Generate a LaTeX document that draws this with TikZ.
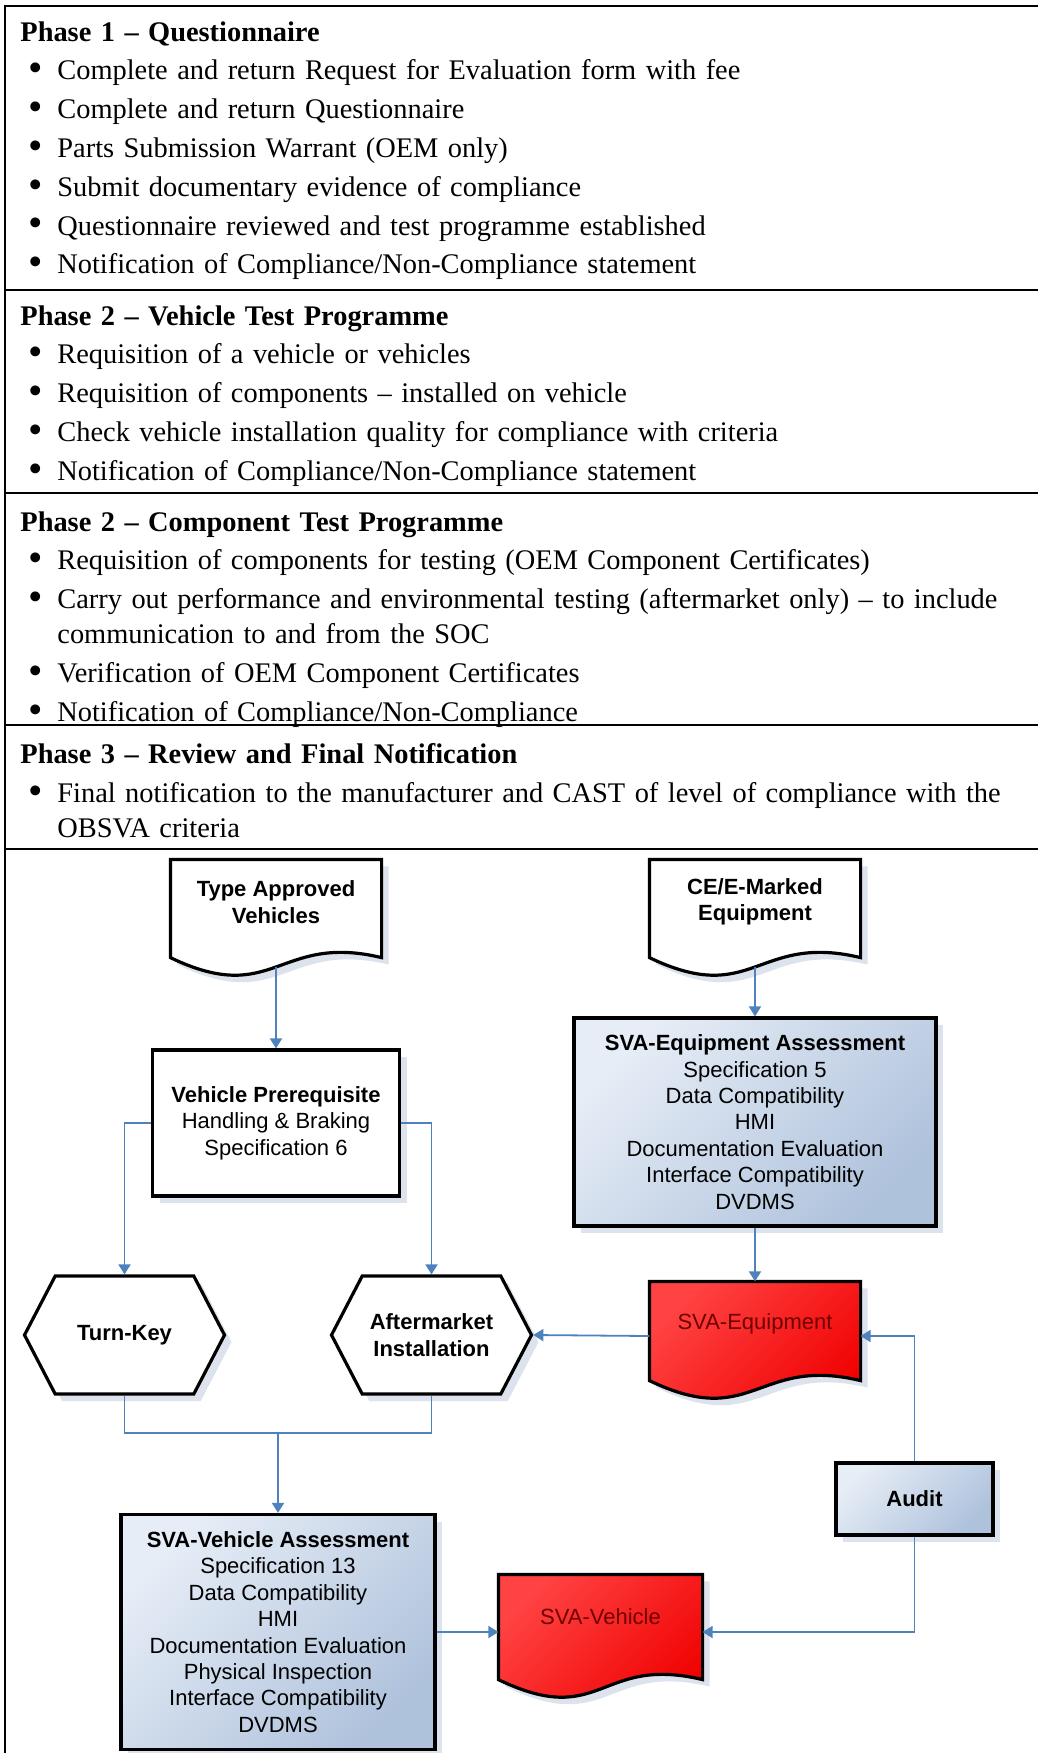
\documentclass[tikz,border=0pt]{standalone}
\usepackage{fontspec}
\setmainfont{Liberation Serif}
\setsansfont{Liberation Sans}
\usetikzlibrary{positioning, shapes.symbols, shadows, backgrounds, arrows.meta}

\definecolor{flowblue}{HTML}{4F81BD}
\definecolor{boxlight}{HTML}{E6EDF6}
\definecolor{boxdark}{HTML}{AFC2DC}
\definecolor{shadowgrey}{HTML}{DDE3EC}
\definecolor{redlight}{HTML}{FF4242}
\definecolor{reddark}{HTML}{F00000}
\definecolor{redtext}{HTML}{6E0000}

\newcommand\phasehead[1]{\noindent\textbf{#1}}
\newcommand\phaseitem{\par\hangindent=18.5pt\hangafter=1\noindent
  \hbox to 18.5pt{\hskip4pt\raisebox{-0.9pt}{\scalebox{1.45}{\textbullet}}\hfil}}
\newcommand\docoutline[3]{\path[docline,#3] (#1.north west) -- (#1.north east) -- ([yshift=-#2]#1.south east)
  .. controls +(-104,-25) and +(104,50) .. ([yshift=-#2]#1.south west) -- cycle;}

\tikzset{
  frame/.style={line width=1.3pt},
  phase/.style={anchor=north west, inner sep=0pt, text width=505pt, align=left,
    font={\fontsize{14.2pt}{17.5pt}\selectfont\parskip=1.9pt}},
  shadowed/.style={drop shadow={shadow xshift=3.5pt, shadow yshift=-3.5pt, fill=shadowgrey, opacity=1}},
  flowtext/.style={font=\sffamily\fontsize{11pt}{13.2pt}\selectfont, align=center, inner sep=0pt},
  docnode/.style={flowtext, minimum width=104pt, minimum height=41pt, outer sep=0.8pt},
  docline/.style={draw, line width=1.6pt, shadowed},
  redfill/.style={top color=redlight, bottom color=reddark, shading angle=45},
  plainbox/.style={flowtext, draw, line width=1.6pt, fill=white, shadowed},
  assessbox/.style={flowtext, draw, line width=1.6pt, top color=boxlight, bottom color=boxdark,
    shading angle=45, shadowed},
  hexnode/.style={flowtext, font=\sffamily\bfseries\fontsize{11pt}{13.2pt}\selectfont, draw,
    line width=1.6pt, fill=white, shadowed, signal, signal to=west and east,
    signal pointer angle=125, minimum width=100pt, minimum height=59pt},
  flow/.style={draw=flowblue, line width=0.9pt}
}

\begin{document}
\begin{tikzpicture}[x=0.5pt, y=-0.5pt, node distance=100pt, on grid,
    >={Triangle[length=5pt,width=6pt]}]
\useasboundingbox (0,0) rectangle (1038,1753);

\draw[frame] (1038,6) -- (5,6) -- (5,1753);
\foreach \y in {290,493,725,849}
  \draw[frame] (5,\y) -- (1038,\y);

\node[phase] (phase1) at (20,21) {\phasehead{Phase 1 – Questionnaire}
  \phaseitem Complete and return Request for Evaluation form with fee
  \phaseitem Complete and return Questionnaire
  \phaseitem Parts Submission Warrant (OEM only)
  \phaseitem Submit documentary evidence of compliance
  \phaseitem Questionnaire reviewed and test programme established
  \phaseitem Notification of Compliance/Non-Compliance statement\par};
\node[phase] (phase2v) at (20,305) {\phasehead{Phase 2 – Vehicle Test Programme}
  \phaseitem Requisition of a vehicle or vehicles
  \phaseitem Requisition of components – installed on vehicle
  \phaseitem Check vehicle installation quality for compliance with criteria
  \phaseitem Notification of Compliance/Non-Compliance statement\par};
\node[phase] (phase2c) at (20,511) {\phasehead{Phase 2 – Component Test Programme}
  \phaseitem Requisition of components for testing (OEM Component Certificates)
  \phaseitem Carry out performance and environmental testing (aftermarket only) – to include communication to and from the SOC
  \phaseitem Verification of OEM Component Certificates
  \phaseitem Notification of Compliance/Non-Compliance\par};
\node[phase] (phase3) at (20,743) {\phasehead{Phase 3 – Review and Final Notification}
  \phaseitem Final notification to the manufacturer and CAST of level of compliance with the OBSVA criteria\par};

\node[docnode] (tav) at (276,902) {\textbf{Type Approved}\\\textbf{Vehicles}};
\node[docnode, right=239.5pt of tav] (ce) {\textbf{CE/E-Marked}\\\textbf{Equipment}};
\node[plainbox, minimum width=123.5pt, minimum height=73pt, below=110.5pt of tav] (vp)
  {\textbf{Vehicle Prerequisite}\\Handling \& Braking\\Specification 6};
\node[assessbox, minimum width=181pt, minimum height=104pt, below=110pt of ce] (svaea)
  {\textbf{SVA-Equipment Assessment}\\Specification 5\\Data Compatibility\\HMI\\Documentation Evaluation\\Interface Compatibility\\DVDMS};
\node[docnode, text=redtext, below=101pt of svaea] (sve) {SVA-Equipment};
\node[hexnode] (tk) at (124.5,1335) {Turn-Key};
\node[hexnode, right=153.5pt of tk] (am) {Aftermarket\\Installation};
\node[assessbox, minimum width=78.5pt, minimum height=36pt] (audit) at (914.5,1499) {\textbf{Audit}};
\node[assessbox, minimum width=157pt, minimum height=117.5pt] (svava) at (278,1632)
  {\textbf{SVA-Vehicle Assessment}\\Specification 13\\Data Compatibility\\HMI\\Documentation Evaluation\\Physical Inspection\\Interface Compatibility\\DVDMS};
\node[docnode, minimum width=100.5pt, text=redtext] (svv) at (600.5,1617) {SVA-Vehicle};
\coordinate (merge) at (278,1433);

\begin{scope}[on background layer]
  \docoutline{tav}{6.5pt}{fill=white}
  \docoutline{ce}{6.5pt}{fill=white}
  \docoutline{sve}{7pt}{redfill}
  \docoutline{svv}{10pt}{redfill}
\end{scope}

\draw[flow,->] ([yshift=-11pt]tav.south) -- (vp.north);
\draw[flow,->] ([yshift=-11pt]ce.south) -- (svaea.north);
\draw[flow,->] (vp.west) -| (tk.north);
\draw[flow,->] (vp.east) -| (am.north);
\draw[flow,->] (svaea.south) -- (sve.north);
\draw[flow,->] ([yshift=-6pt]sve.west) -- (am.east);
\draw[flow] (tk.south) |- (merge);
\draw[flow] (am.south) |- (merge);
\draw[flow,->] (merge) -- (svava.north);
\draw[flow,->] (audit.north) |- ([yshift=-6pt]sve.east);
\draw[flow,->] (audit.south) |- ([yshift=-7.5pt]svv.east);
\draw[flow,->] (svava.east) -- ([yshift=-7.5pt]svv.west);
\end{tikzpicture}
\end{document}
